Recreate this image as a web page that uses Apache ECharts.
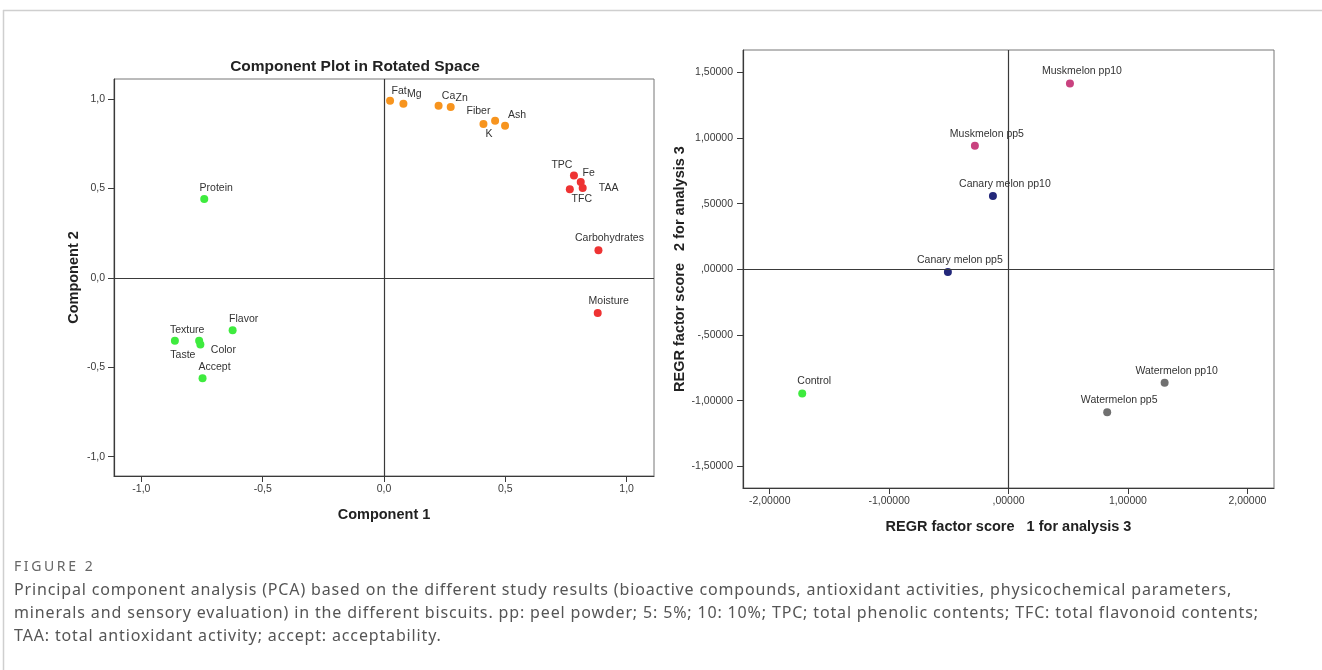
<!DOCTYPE html>
<html><head><meta charset="utf-8">
<script src="https://cdn.jsdelivr.net/npm/echarts@6/dist/echarts.min.js"></script>
<style>
html,body{margin:0;padding:0;background:#fff}
#wrap{position:relative;width:1322px;height:670px}
#c{width:1322px;height:670px}
.cap{position:absolute;left:14px;font-family:"Noto Sans",sans-serif;color:#555;white-space:nowrap;line-height:20px}
.fig{font-size:14px;color:#666;letter-spacing:2.6px}
.txt{font-size:16px;letter-spacing:0.85px}
</style>
</head><body><div id="wrap"><div id="c"></div>
<div class="cap fig" style="top:556px">FIGURE 2</div>
<div class="cap txt" style="top:579px">Principal component analysis (PCA) based on the different study results (bioactive compounds, antioxidant activities, physicochemical parameters,</div>
<div class="cap txt" style="top:602px">minerals and sensory evaluation) in the different biscuits. pp: peel powder; 5: 5%; 10: 10%; TPC; total phenolic contents; TFC: total flavonoid contents;</div>
<div class="cap txt" style="top:625px">TAA: total antioxidant activity; accept: acceptability.</div>
</div>
<script>
// ---- Left panel: component loadings ----
const orangeNames = ['Fat','Mg','Ca','Zn','Fiber','K','Ash'];
const orangeX = [0.025, 0.080, 0.225, 0.275, 0.410, 0.458, 0.499];
const orangeY = [0.990, 0.974, 0.963, 0.955, 0.860, 0.879, 0.851];
const redNames = ['TPC','Fe','TAA','TFC','Carbohydrates','Moisture'];
const redX = [0.783, 0.811, 0.819, 0.766, 0.884, 0.881];
const redY = [0.572, 0.536, 0.503, 0.495, 0.154, -0.196];
const greenNames = ['Protein','Flavor','Texture','Taste','Color','Accept'];
const greenX = [-0.741, -0.624, -0.762, -0.862, -0.757, -0.748];
const greenY = [0.441, -0.293, -0.352, -0.352, -0.373, -0.561];
const leftTickValues = [-1, -0.5, 0, 0.5, 1];
const leftTickLabels = ['-1,0', '-0,5', '0,0', '0,5', '1,0'];

// ---- Right panel: factor scores ----
const muskNames = ['Muskmelon pp10', 'Muskmelon pp5'];
const muskX = [0.514, -0.282];
const muskY = [1.415, 0.940];
const canaryNames = ['Canary melon pp10', 'Canary melon pp5'];
const canaryX = [-0.131, -0.508];
const canaryY = [0.559, -0.020];
const controlNames = ['Control'];
const controlX = [-1.728];
const controlY = [-0.945];
const waterNames = ['Watermelon pp10', 'Watermelon pp5'];
const waterX = [1.307, 0.826];
const waterY = [-0.864, -1.088];
const rightXTickValues = [-2, -1, 0, 1, 2];
const rightXTickLabels = ['-2,00000', '-1,00000', ',00000', '1,00000', '2,00000'];
const rightYTickValues = [-1.5, -1, -0.5, 0, 0.5, 1, 1.5];
const rightYTickLabels = ['-1,50000', '-1,00000', '-,50000', ',00000', ',50000', '1,00000', '1,50000'];

// label placement styling (offset of label centre from point centre)
const labelOffsets = {
  'Fat':[9,-10], 'Mg':[11,-10], 'Ca':[10,-10], 'Zn':[11,-9], 'Fiber':[-5,-13], 'K':[-6,13], 'Ash':[12,-11],
  'TPC':[-12,-10], 'Fe':[8,-9], 'TAA':[26,0], 'TFC':[12,10], 'Carbohydrates':[11,-12], 'Moisture':[11,-12],
  'Protein':[12,-11], 'Flavor':[11,-11], 'Texture':[-12,-11], 'Taste':[8,14], 'Color':[23,6], 'Accept':[12,-11]
};
const defaultOffset = [12, -12];

const FONT = 'Liberation Sans, Arial, sans-serif';

function pts(names, xs, ys) {
  return names.map((n, i) => ({
    name: n, value: [xs[i], ys[i]],
    label: { offset: labelOffsets[n] || defaultOffset }
  }));
}
function lbl(vals, labs) { return v => { const i = vals.findIndex(t => Math.abs(t - v) < 1e-9); return i >= 0 ? labs[i] : ''; }; }

function scatter(name, xi, data, color, fs) {
  return {
    type: 'scatter', name, xAxisIndex: xi, yAxisIndex: xi, data,
    symbolSize: 8, itemStyle: { color, opacity: 1 },
    label: { show: true, position: 'inside', formatter: p => p.name, fontSize: fs, color: '#333', fontFamily: FONT },
    emphasis: { disabled: true }, silent: true, z: 3
  };
}
const zeroLine = {
  silent: true, symbol: ['none', 'none'], animation: false,
  label: { show: false }, lineStyle: { color: '#3a3a3a', width: 1.2, type: 'solid' },
  data: [{ xAxis: 0 }, { yAxis: 0 }]
};

function axisCommon(vals, labs, margin, fs) {
  return {
    type: 'value',
    axisLine: { show: true, onZero: false, lineStyle: { color: '#3a3a3a', width: 1.2 } },
    axisTick: { show: true, length: 6, lineStyle: { color: '#3a3a3a' }, customValues: vals },
    axisLabel: { customValues: vals, formatter: lbl(vals, labs), margin, fontSize: fs, color: '#3a3a3a', fontFamily: FONT },
    splitLine: { show: false }
  };
}

const chart = echarts.init(document.getElementById('c'), null, { renderer: 'canvas' });
const nameStyle = { fontWeight: 'bold', fontSize: 14.5, color: '#222', fontFamily: FONT };

chart.setOption({
  animation: false,
  backgroundColor: '#fff',
  grid: [
    { left: 114, top: 79, width: 540, height: 397, show: true, borderColor: '#777', borderWidth: 1 },
    { left: 743, top: 50, width: 531, height: 438, show: true, borderColor: '#777', borderWidth: 1 }
  ],
  xAxis: [
    Object.assign(axisCommon(leftTickValues, leftTickLabels, 8, 10.5), { gridIndex: 0, min: -1.113, max: 1.113,
      name: 'Component 1', nameLocation: 'middle', nameGap: 31, nameTextStyle: nameStyle }),
    Object.assign(axisCommon(rightXTickValues, rightXTickLabels, 8, 10.5), { gridIndex: 1, min: -2.224, max: 2.223,
      name: 'REGR factor score   1 for analysis 3', nameLocation: 'middle', nameGap: 31, nameTextStyle: nameStyle })
  ],
  yAxis: [
    Object.assign(axisCommon(leftTickValues, leftTickLabels, 9, 10.5), { gridIndex: 0, min: -1.108, max: 1.112,
      name: 'Component 2', nameLocation: 'middle', nameGap: 33, nameRotate: 90, nameTextStyle: nameStyle }),
    Object.assign(axisCommon(rightYTickValues, rightYTickLabels, 10, 10.5), { gridIndex: 1, min: -1.665, max: 1.67,
      name: 'REGR factor score   2 for analysis 3', nameLocation: 'middle', nameGap: 56, nameRotate: 90, nameTextStyle: nameStyle })
  ],
  series: [
    Object.assign(scatter('orange', 0, pts(orangeNames, orangeX, orangeY), '#F7941E', 10.5), { markLine: zeroLine }),
    scatter('red', 0, pts(redNames, redX, redY), '#EE3333', 10.5),
    scatter('green', 0, pts(greenNames, greenX, greenY), '#3EEB3E', 10.5),
    Object.assign(scatter('musk', 1, pts(muskNames, muskX, muskY), '#C9427F', 10.5), { markLine: zeroLine }),
    scatter('canary', 1, pts(canaryNames, canaryX, canaryY), '#23287A', 10.5),
    scatter('control', 1, pts(controlNames, controlX, controlY), '#3EEB3E', 10.5),
    scatter('water', 1, pts(waterNames, waterX, waterY), '#707070', 10.5)
  ],
  graphic: [
    { type: 'line', shape: { x1: 3, y1: 10.5, x2: 1322, y2: 10.5 }, style: { stroke: '#cfcfcf', lineWidth: 1.5 }, silent: true },
    { type: 'line', shape: { x1: 3.5, y1: 10, x2: 3.5, y2: 670 }, style: { stroke: '#cfcfcf', lineWidth: 1.5 }, silent: true },
    { type: 'text', x: 355, y: 67, silent: true,
      style: { text: 'Component Plot in Rotated Space', align: 'center', verticalAlign: 'middle', font: 'bold 15.5px ' + FONT, fill: '#222' } }
  ]
});
</script></body></html>
